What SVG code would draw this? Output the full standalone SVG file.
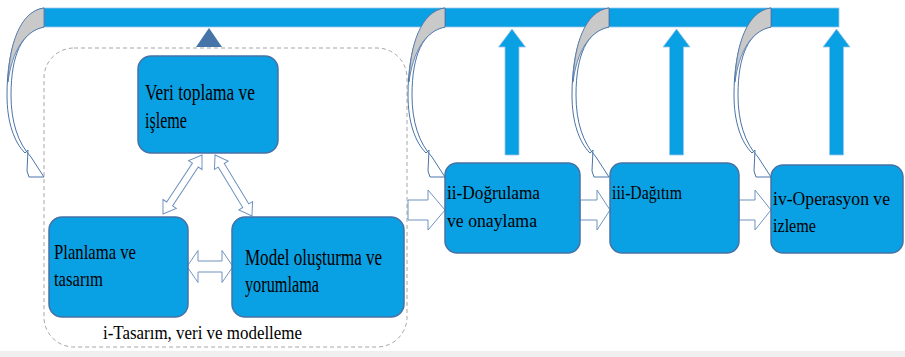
<svg xmlns="http://www.w3.org/2000/svg" width="905" height="357" viewBox="0 0 905 357" font-family="'Liberation Serif','DejaVu Serif',serif">
<defs>
<style>
.box{fill:#0aa0e4;stroke:#4672a6;stroke-width:1.5}
.hol{fill:#fff;stroke:#6f93bf;stroke-width:1}
.up{fill:#0aa0e4;stroke:#9cc6e8;stroke-width:0.8}
.curve{fill:#fff;stroke:#4a74a8;stroke-width:1}
.back{fill:#c9c9c9;stroke:#4a74a8;stroke-width:0.8}
</style>
<path id="ca" d="M0,8 C-24,11 -37,48 -37,95 C-37,122 -30,142 -19,153 L-16,150 L-17,171 L-15,177 L0,177 L-2,174 L-13,157 C-26,143 -33,122 -33,95 C-33,55 -22,31 0,27 Z"/>
<path id="cb" d="M0,8 C-24,11 -35,45 -36,82 C-32,52 -20,31 0,27 Z"/>
<path id="upa" d="M0,0 L13.5,18 L7,18 L7,126 L-7,126 L-7,18 L-13.5,18 Z"/>
</defs>
<rect x="0" y="351" width="905" height="6" fill="#efefef"/>
<g id="top-bar">
<rect x="44" y="8" width="795" height="19" fill="#0aa0e4" stroke="#9cc6e8" stroke-width="0.8"/>
<polygon points="196,47 209,28 222,47" fill="#4673a8"/>
</g>
<g id="group-i">
<rect x="44" y="48" width="363" height="299" rx="30" fill="none" stroke="#a6a6a6" stroke-width="1" stroke-dasharray="4,3"/>
<text style="font-family:'Liberation Serif','DejaVu Serif',serif;font-size:18.5px" x="103" y="339" textLength="199" lengthAdjust="spacingAndGlyphs">i-Tasarım, veri ve modelleme</text>
</g>
<g id="connectors">
<use href="#upa" class="up" x="512" y="29"/>
<use href="#upa" class="up" x="676.5" y="29"/>
<use href="#upa" class="up" x="836.5" y="29"/>
<g transform="translate(44,0)"><use href="#ca" class="curve"/><use href="#cb" class="back"/></g>
<g transform="translate(445,0)"><use href="#ca" class="curve"/><use href="#cb" class="back"/></g>
<g transform="translate(609,0)"><use href="#ca" class="curve"/><use href="#cb" class="back"/></g>
<g transform="translate(771,0)"><use href="#ca" class="curve"/><use href="#cb" class="back"/></g>
<path class="hol" d="M408,200 L428,200 L428,190 L445,210 L428,230 L428,220 L408,220 Z"/>
<path class="hol" d="M580,200 L597,200 L597,190 L610,210 L597,230 L597,220 L580,220 Z"/>
<path class="hol" d="M739,200 L755,200 L755,190 L771,210 L755,230 L755,220 L739,220 Z"/>
<path class="hol" d="M187,266.5 L198,250.5 L198,261 L222,261 L222,250.5 L233,266.5 L222,282.5 L222,272 L198,272 L198,282.5 Z"/>
<path class="hol" transform="translate(182.5,184.5) rotate(123.5)" d="M-35.3,0 L-23.3,-8 L-23.3,-3.5 L23.3,-3.5 L23.3,-8 L35.3,0 L23.3,8 L23.3,3.5 L-23.3,3.5 L-23.3,8 Z"/>
<path class="hol" transform="translate(233.5,185.5) rotate(58.8)" d="M-35.6,0 L-23.6,-8 L-23.6,-3.5 L23.6,-3.5 L23.6,-8 L35.6,0 L23.6,8 L23.6,3.5 L-23.6,3.5 L-23.6,8 Z"/>
</g>
<g id="veri">
<rect class="box" x="138" y="56" width="140" height="97" rx="13"/>
<text style="font-family:'Liberation Serif','DejaVu Serif',serif;font-size:24px" x="145" y="100" textLength="110" lengthAdjust="spacingAndGlyphs">Veri toplama ve</text>
<text style="font-family:'Liberation Serif','DejaVu Serif',serif;font-size:24px" x="145" y="128" textLength="42" lengthAdjust="spacingAndGlyphs">işleme</text>
</g>
<g id="planlama">
<rect class="box" x="49" y="217" width="139" height="100" rx="13"/>
<text style="font-family:'Liberation Serif','DejaVu Serif',serif;font-size:22px" x="54" y="259" textLength="82" lengthAdjust="spacingAndGlyphs">Planlama ve</text>
<text style="font-family:'Liberation Serif','DejaVu Serif',serif;font-size:22px" x="54" y="286" textLength="49" lengthAdjust="spacingAndGlyphs">tasarım</text>
</g>
<g id="model">
<rect class="box" x="232" y="217" width="172" height="100" rx="13"/>
<text style="font-family:'Liberation Serif','DejaVu Serif',serif;font-size:24px" x="245" y="265" textLength="137" lengthAdjust="spacingAndGlyphs">Model oluşturma ve</text>
<text style="font-family:'Liberation Serif','DejaVu Serif',serif;font-size:24px" x="245" y="292" textLength="74" lengthAdjust="spacingAndGlyphs">yorumlama</text>
</g>
<g id="dogrulama">
<rect class="box" x="445" y="163" width="135" height="90" rx="12"/>
<text style="font-family:'Liberation Serif','DejaVu Serif',serif;font-size:18.5px" x="447" y="199" textLength="93" lengthAdjust="spacingAndGlyphs">ii-Doğrulama</text>
<text style="font-family:'Liberation Serif','DejaVu Serif',serif;font-size:18.5px" x="447" y="227" textLength="90" lengthAdjust="spacingAndGlyphs">ve onaylama</text>
</g>
<g id="dagitim">
<rect class="box" x="610" y="163" width="129" height="90" rx="12"/>
<text style="font-family:'Liberation Serif','DejaVu Serif',serif;font-size:18.5px" x="612" y="199" textLength="70" lengthAdjust="spacingAndGlyphs">iii-Dağıtım</text>
</g>
<g id="operasyon">
<rect class="box" x="771" y="165" width="132" height="88" rx="12"/>
<text style="font-family:'Liberation Serif','DejaVu Serif',serif;font-size:18.5px" x="773" y="205" textLength="117" lengthAdjust="spacingAndGlyphs">iv-Operasyon ve</text>
<text style="font-family:'Liberation Serif','DejaVu Serif',serif;font-size:18.5px" x="773" y="232" textLength="43" lengthAdjust="spacingAndGlyphs">izleme</text>
</g>
</svg>
